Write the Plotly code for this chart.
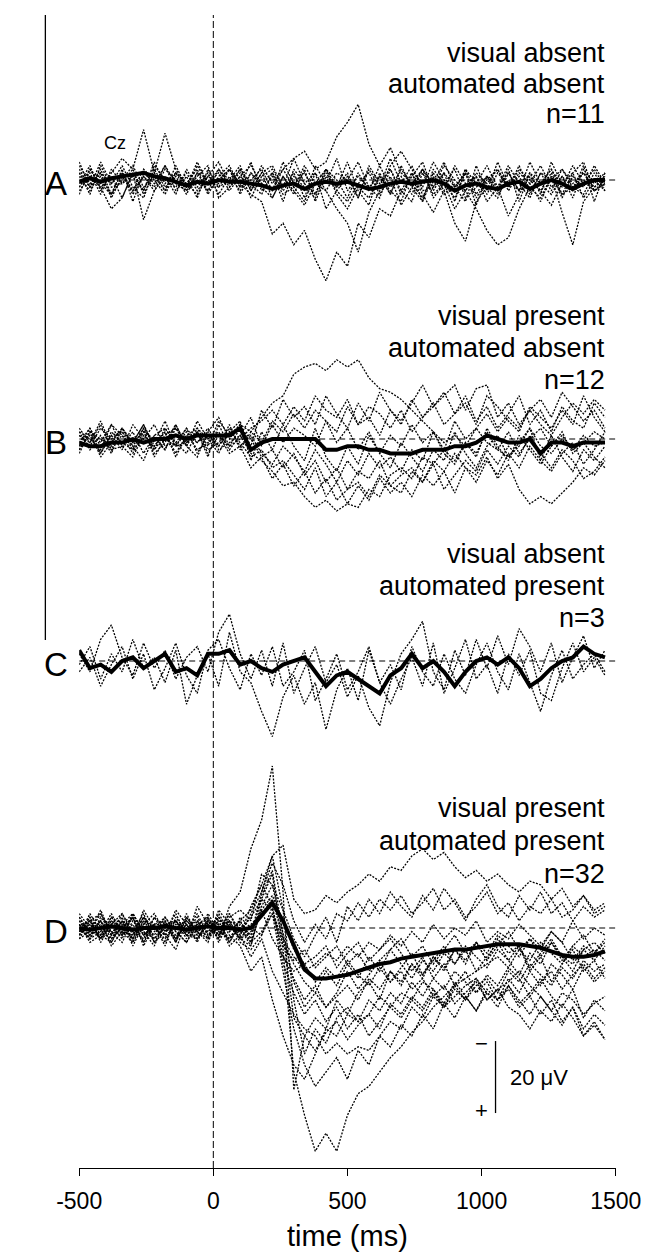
import plotly.graph_objects as go

W, H = 668, 1256
FONT = "Liberation Sans, Arial, Helvetica, sans-serif"

# ---------------- data (µV, positive = downward, as in the figure) ----------------
TIME_MS = [-500, -460, -420, -380, -340, -300, -260, -220, -180, -140,
           -100, -60, -20, 20, 60, 100, 140, 180, 220, 260,
           300, 340, 380, 420, 460, 500, 540, 580, 620, 660,
           700, 740, 780, 820, 860, 900, 940, 980, 1020, 1060,
           1100, 1140, 1180, 1220, 1260, 1300, 1340, 1380, 1420, 1460]

A_MEAN = [0.5, -0.5, 0.5, -0.5, -1, -1.5, -2, -1, -0.5, 0.5,
          1.5, 0.5, 1, 0, 0.5, 0.5, 1, 1.5, 2.5, 1.5,
          1, 2.5, 1, 0.5, 1, 0.5, 1.5, 2.5, 2, 1,
          0.5, 1, 0.5, 0, 1, 3, 1.5, 1, 2, 2.5,
          1, 0.5, 2.5, 1, 0, 1, 2.5, 1, 0, 0]
A_TRIALS = [
    [2, -3, 1, 4, -2, 3, -1, 2, -4, 1, 3, -2, 0, 2, -3, 1, 4, 6, 15, 12,
     18, 14, 22, 28, 20, 24, 12, 16, 8, 10, 3, 6, -2, 4, 1, -3, 5, 2, -1, 4,
     0, 3, -2, 1, 4, -1, 2, 0, 3, 1],
    [-3, 2, -5, 1, -2, 4, -1, 3, -3, 0, 2, -4, 1, -2, 3, -1, 2, -4, 1, -3,
     -6, -8, -3, -5, -12, -16, -21, -10, -4, -9, -2, 1, -3, 2, -4, 0, 3, -2, 1, -3,
     2, -1, 4, -2, 0, -3, 1, -2, 2, 0],
    [1, -4, 3, -2, -6, -3, -14, -2, -13, -3, 2, -5, 1, -3, 2, -1, -4, 1, -2, 3,
     -1, 2, 5, -2, 3, 6, 1, -2, 4, -1, 7, 2, -3, 5, 1, 8, 3, -1, 6, 2,
     10, 4, -1, 3, 7, 1, -2, 5, 0, 3],
    [3, -1, 2, 8, 5, -2, 11, 3, -1, 4, -3, 2, -2, 4, -1, 3, -2, 2, 5, -1,
     3, 7, 1, -3, 4, 8, 2, 5, -1, 3, 6, -2, 4, 9, 3, 12, 17, 6, 2, 5,
     -2, 3, 1, 6, -1, 4, 2, -2, 3, 1],
    [-2, 2, -3, 4, 0, -4, 2, -1, 3, -2, 1, 4, -1, -5, 1, -3, 3, -2, -4, 2,
     -6, 1, 4, -3, 2, -2, 5, -4, 1, -3, 3, -2, 6, -1, 4, 1, 3, 8, 14, 18,
     16, 8, 2, 5, -1, 9, 18, 6, 2, -1],
    [-1, 3, -2, 1, -4, 2, 5, -3, 2, -1, 4, -2, 3, 0, -3, 2, -5, 3, -1, 4,
     2, 6, -2, 3, 8, 12, 20, 9, 3, -4, -8, -3, 2, -5, 0, 3, -3, 1, -4, 2,
     -2, 3, -5, 1, -3, 2, -4, 1, -3, 2],
    [-4, 1, -2, 5, -1, 3, -3, 0, 4, -2, 1, -3, 4, -1, -4, 2, 0, -3, 3, -5,
     1, -2, 4, -3, 0, 5, -2, 3, -4, 2, -1, 4, -3, 1, -5, 2, -2, 5, 0, -3,
     3, -2, 1, -4, 2, -1, 5, -3, 1, -2],
    [2, -2, 4, -3, 1, -1, 3, -4, 0, 2, -2, 3, -1, 1, -3, 4, -2, 1, 3, -3,
     2, -4, 1, 3, -2, 0, -5, 2, -1, 4, -3, 1, 5, -2, 3, -4, 1, -1, 4, -2,
     2, -3, 0, 3, -2, 5, -1, 2, -4, 1],
    [-5, 2, -1, 4, -3, 6, -2, 1, -4, 3, -1, 5, -3, 2, 0, -4, 3, -2, 5, -1,
     4, -3, 6, -1, 2, -5, 3, 7, -2, 4, -4, 2, 6, -3, 1, 5, -2, 7, -1, 3,
     -3, 6, -2, 4, -5, 1, 3, -4, 6, -2],
    [4, -3, 2, -1, 5, -2, 3, -5, 1, -2, 3, -1, -4, 5, 2, -3, 1, 4, -2, 6,
     -3, 1, -2, 8, 3, -1, 5, -3, 2, -6, 1, -4, 3, 2, -2, 6, -3, 4, -1, 2,
     -4, 1, 5, -2, 3, -3, 2, 4, -2, 3],
    [-2, 4, -4, 2, 1, -3, 4, -2, 3, -4, 2, 0, 3, -3, 1, -2, 5, -1, -3, 2,
     -2, 5, -4, 1, -6, 3, -1, 2, 5, -3, 4, -1, -5, 3, -2, 2, 6, -4, 3, -5,
     2, -4, 3, 1, -3, 4, -2, -5, 3, 0],
]

B_MEAN = [1, 2, 2, 1, 1, 0, 1, 0, 0, -1,
          0, -1, -1, -1, -1, -3, 3, 1, 0, 0,
          0, 0, 0, 3, 3, 2, 2, 3, 3, 4,
          4, 4, 3, 3, 3, 2, 2, 1, -1, 0,
          1, 1, 0, 4, 1, 1, 2, 1, 1, 1]
B_TRIALS = [
    [-2, 3, -1, 4, -3, 1, -4, 2, -2, 5, -1, -3, 2, -5, -1, -4, -2, -6, -10, -12,
     -18, -20, -21, -19, -22, -20, -22, -17, -14, -13, -11, -8, -5, -2, 1, -1, 2, -3, 1, 3,
     -2, 4, 0, -3, 2, -1, 3, 1, -2, 0],
    [3, -2, 5, 1, -3, 2, 6, -1, 3, -4, 2, 5, -2, 3, 1, -1, 4, 6, 9, 13,
     12, 16, 19, 17, 20, 18, 19, 14, 16, 10, 8, 11, 5, 7, 3, 6, 1, 4, -2, 3,
     5, 1, -3, 2, 4, 0, 3, -1, 2, 1],
    [-3, 1, -5, 2, -1, 4, -2, 0, 3, -3, 1, -2, 4, -1, 2, -3, 0, 5, 3, 8,
     4, 10, 6, 12, 8, 14, 9, 11, 6, 13, 10, 8, 12, 6, 9, 4, 8, 10, 5, 11,
     7, 14, 18, 16, 18, 15, 12, 8, 10, 6],
    [1, -3, 2, -1, 3, -4, 0, 2, -2, 4, -1, 1, -3, 2, -4, 3, -2, 1, -5, -2,
     -7, -3, -8, -5, -2, -9, -4, -6, -1, -8, -5, -10, -15, -9, -12, -15, -8, -14, -15, -6,
     -10, -4, -8, -11, -6, -13, -9, -5, -8, -3],
    [2, -1, 4, -2, 1, 3, -3, 5, 0, 2, -2, 3, 1, -1, 4, 2, 8, 5, 11, 7,
     13, 9, 15, 11, 17, 14, 12, 16, 10, 13, 15, 9, 12, 7, 14, 10, 6, 9, 3, 7,
     2, 5, -1, 4, 8, 3, 6, 11, 9, 5],
    [-1, 2, -3, 0, -2, 1, -4, 3, -1, -3, 2, -5, 0, -2, 3, -1, -6, 2, -4, 1,
     -3, -1, 2, -5, 1, -3, 3, -2, 4, -1, 2, -4, 1, -2, 3, -5, 0, -3, -7, -2,
     -6, -3, -8, -4, -1, -6, -10, -7, -11, -8],
    [3, -2, 1, -4, 2, 5, -1, 3, -3, 1, 4, -2, 3, 1, -3, 2, -1, 4, 7, 2,
     5, 9, 3, 7, 12, 6, 10, 4, 8, 5, 9, 3, 6, -2, 4, 7, 1, 5, -3, 2,
     6, -1, 3, 7, 2, -2, 4, 1, 5, 8],
    [-2, 0, 3, -4, -1, 2, -3, 1, -5, 2, -3, 1, -2, -6, 0, -4, 2, -8, -3, -11,
     -6, -9, -4, -12, -7, -3, -10, -5, -13, -8, -4, -11, -6, -9, -13, -7, -10, -4, -12, -9,
     -5, -2, -9, -6, -3, -8, -4, -12, -6, -2],
    [2, -3, 4, -1, -2, 3, 0, -4, 2, 1, -3, 4, -1, 2, -2, -5, 6, -2, 3, -4,
     2, 6, -3, 5, 9, 2, 7, -1, 4, 8, 1, 5, 9, 3, 6, -2, 4, 8, 2, -1,
     5, 2, -3, 6, 9, 4, 1, 7, 3, -2],
    [-1, 1, -4, 3, 2, -2, 4, -1, -3, 2, 1, -2, 5, -4, 2, 0, -3, -5, -8, -4,
     -9, -5, -12, -8, -6, -11, -4, -9, -7, -3, -8, -2, -6, -10, -4, -7, -12, -5, -9, -3,
     -7, -12, -4, -8, -2, -9, -5, -3, -10, -6],
    [4, -2, 0, 3, -3, 1, -2, 4, 1, -4, 2, -3, 0, 4, -2, 1, 5, 3, 8, 6,
     10, 14, 8, 16, 12, 18, 13, 17, 11, 15, 12, 16, 10, 13, 9, 15, 8, 12, 6, 10,
     4, 8, 2, 6, -1, 5, 9, 3, 6, 2],
]

C_MEAN = [-3, 2, 1, 3, 0, -1, 2, 0, -2, 3,
          2, 4, -2, -2, -3, 1, 0, 2, 3, 1,
          0, -1, 3, 7, 4, 3, 5, 7, 9, 4,
          2, -2, 2, 0, 3, 7, 3, 0, -1, 1,
          -1, 2, 7, 5, 2, 0, -1, -4, -2, -1]
C_TRIALS = [
    [1, -4, 5, -2, 3, -6, 2, -1, 6, -3, 12, 4, -2, 7, -8, 3, 6, 14, 21, 10,
     4, 12, 6, 19, 8, 2, 11, -3, 6, 1, 8, -4, 3, 7, -2, 5, 9, 1, -5, 3,
     8, -2, 6, 14, 4, -3, 5, 1, -2, 3],
    [-2, 3, -6, -10, -1, 4, -5, 2, -3, 5, -1, -4, 3, -8, -13, -2, 5, -3, 7, -5,
     9, 2, -4, 6, 1, 10, 4, 13, 18, 6, -2, -6, -11, 3, 8, -3, 4, -6, 2, -7,
     1, -9, -4, 3, -5, 6, -1, -7, 2, -3],
    [3, -1, 7, 1, -4, 5, -2, 8, 2, -5, 4, 9, -3, -6, 2, 8, -2, 4, -4, 7,
     3, -3, 11, 5, -2, 8, 3, -4, 6, 12, 5, -1, 7, -5, 9, 2, -6, 5, 1, 9,
     -2, 4, -3, 9, 11, 2, -5, 3, -1, 4],
]

D_MEAN = [0, 0.5, 0, -0.5, 0, 0.5, 0, 0, -0.5, 0,
          0.5, 0, -0.5, 0, 0, 0.5, 0, -3.5, -7, -2,
          5, 11.5, 14, 14, 13.5, 13, 12, 11, 10, 9.5,
          8.5, 8, 7.5, 7, 6.5, 6, 6, 5.5, 5, 4.5,
          4.5, 4.5, 5, 5.5, 6.5, 7.5, 8, 8, 7.5, 6.5]
D_TRIALS = [
    [2, -3, 4, -1, 3, -4, 1, 5, -2, 3, -1, 4, -3, 2, -1, 3, 5, -8, -15, 6,
     40, 52, 62, 57, 62, 52, 46, 44, 40, 36, 33, 29, 26, 22, 19, 16, 14, 12, 10, 8,
     11, 6, 9, 4, 7, 10, 5, 8, 6, 9],
    [-3, 1, -4, 2, -2, 3, -5, 0, -1, 4, -3, 1, -2, 3, -6, -10, -22, -30, -45, -10,
     45, 30, 25, 28, 20, 24, 18, 15, 20, 12, 16, 10, 14, 8, 12, 6, 10, 4, 9, 3,
     7, 5, 12, 8, 15, 10, 6, 12, 9, 14],
    [1, -2, 3, -1, -4, 2, -3, 0, 2, -5, -1, 3, -2, 1, -4, 2, -6, -12, -20, -23,
     -8, -4, -5, -9, -7, -10, -12, -15, -13, -17, -16, -20, -22, -19, -21, -17, -14, -16, -13, -15,
     -12, -10, -13, -12, -8, -11, -6, -9, -5, -7],
    [-1, 3, -2, 5, 1, -3, 4, -1, 2, 6, -2, 1, 4, -3, 2, 5, 12, 8, 20, 30,
     38, 42, 35, 28, 30, 24, 26, 20, 23, 18, 21, 15, 19, 14, 17, 12, 15, 18, 13, 16,
     11, 14, 19, 15, 12, 17, 13, 10, 14, 11],
    [2, -4, 1, 3, -2, 5, -1, 2, -3, 1, 4, -2, 3, -1, 5, 2, 8, 3, 12, 18,
     24, 28, 30, 35, 32, 35, 33, 34, 30, 26, 28, 22, 25, 19, 22, 17, 20, 16, 14, 18,
     12, 15, 10, 13, 16, 11, 14, 9, 12, 10],
    [-3, 2, -1, 4, -2, 1, -4, 3, 0, -2, 2, -1, 3, -4, 1, -2, 4, -5, 3, 8,
     12, 10, 15, 11, 14, 9, 13, 16, 11, 15, 12, 17, 14, 19, 16, 21, 18, 15, 20, 17,
     22, 24, 28, 23, 26, 21, 25, 30, 27, 31],
    [0, 3, -3, 1, 4, -2, 2, -1, 5, -3, 1, 3, -1, 2, -4, 1, -3, -8, -5, 4,
     10, 15, 18, 22, 19, 16, 20, 14, 17, 12, 15, 10, 13, 8, 11, 6, 9, 4, 7, 2,
     5, 8, 3, 6, 1, 4, 9, 5, 7, 3],
    [-2, 1, -5, 2, -3, 4, -1, -4, 1, -2, 3, -6, -1, 2, -3, -5, -2, -15, -12, -5,
     3, 8, 2, -3, 4, -6, -2, -8, -4, -10, -6, -3, -9, -5, -11, -7, -2, -8, -12, -6,
     -3, -9, -5, -10, -4, -7, -2, -6, -3, -5],
    [1, -1, 2, -2, 0, 3, -3, 1, -1, 2, 0, -2, 1, -1, 3, 0, 5, -6, -12, 2,
     15, 22, 18, 12, 16, 10, 14, 8, 12, 6, 10, 14, 9, 12, 7, 10, 5, 8, 11, 6,
     9, 13, 7, 10, 4, 8, 12, 6, 9, 5],
    [3, -2, -4, 1, 2, -3, 5, -1, -2, 3, -4, 2, 1, -2, 4, -1, 2, -10, -20, -5,
     20, 35, 28, 32, 25, 22, 26, 24, 19, 22, 18, 20, 15, 17, 22, 19, 16, 14, 20, 17,
     15, 12, 16, 19, 23, 18, 20, 24, 21, 19],
    [-1, 4, 2, -3, -1, 3, -2, 4, 1, -4, 2, -1, -3, 4, -2, 3, -1, -4, -8, 3,
     8, 12, 10, 7, 9, 5, 8, 4, 6, 2, 5, 1, 4, -1, 3, 0, 2, -2, 4, 1,
     3, -1, 2, 5, 1, 4, -2, 3, 0, 2],
    [2, -1, 3, -3, 1, 4, -2, 0, 3, -1, 1, -3, 2, 0, -2, 4, 6, 2, -6, 10,
     18, 24, 20, 26, 22, 28, 24, 30, 26, 22, 25, 20, 23, 18, 22, 16, 20, 14, 18, 22,
     16, 20, 24, 19, 23, 27, 22, 30, 26, 31],
    [-2, 3, 1, -4, 2, -1, 4, -3, 0, 3, -1, 2, -4, 1, 3, -2, -5, -12, -6, 8,
     14, 20, 16, 22, 18, 12, 17, 13, 9, 15, 11, 7, 13, 9, 5, 10, 6, 12, 8, 4,
     9, 5, 11, 7, 3, 8, 10, 6, 4, 7],
    [1, -3, 2, 4, -1, -4, 2, 0, -3, 1, 4, -1, 0, -3, 1, -2, 3, -9, -16, 2,
     25, 30, 34, 29, 26, 31, 27, 24, 28, 21, 24, 19, 22, 17, 21, 15, 19, 23, 18, 20,
     16, 21, 18, 14, 19, 22, 17, 25, 20, 23],
    [-4, 0, 3, -2, 1, 2, -3, 4, -1, -2, 2, 3, -2, -1, 4, -3, 0, 2, -4, 5,
     9, 6, 11, 8, 5, 10, 7, 12, 9, 6, 3, 8, 5, 10, 6, 2, 7, 4, 9, 5,
     1, 6, 3, 8, 4, 9, 5, 2, 7, 4],
    [3, 1, -2, 2, -4, 1, 3, -3, 2, 0, -2, 1, 3, -5, -1, 2, -4, -10, -18, -12,
     -2, 4, -1, 3, -4, -2, -7, -3, -8, -5, -9, -4, -7, -11, -5, -8, -3, -6, -10, -4,
     -7, -2, -6, -4, -8, -3, -5, -9, -4, -6],
    [0, -2, 3, -1, 2, -4, 1, 3, -2, 4, -3, 1, -1, 3, -2, 0, 4, 1, -4, 12,
     28, 38, 44, 40, 36, 42, 34, 38, 30, 33, 27, 30, 24, 28, 21, 25, 19, 23, 17, 20,
     14, 18, 12, 16, 10, 13, 17, 11, 15, 12],
    [-1, 2, -2, 3, 0, -3, 2, -1, 4, -2, 1, -4, 2, -2, -1, 3, 1, -5, -9, -2,
     6, 10, 8, 5, 11, 7, 4, 9, 6, 3, 7, 12, 8, 14, 10, 16, 12, 18, 15, 20,
     17, 22, 19, 24, 20, 26, 22, 28, 24, 27],
]

PANEL_LETTERS = ["A", "B", "C", "D"]
VISUAL_LABELS = ["visual absent", "visual present", "visual absent", "visual present"]
AUTOMATED_LABELS = ["automated absent", "automated absent", "automated present", "automated present"]
N_LABELS = ["n=11", "n=12", "n=3", "n=32"]
X_TICKS = [-500, 0, 500, 1000, 1500]
SCALE_BAR_UV = 20

# ---------------- layout geometry (pixels) ----------------
PANEL_PX = [(0, 300, 172), (300, 522, 431), (522, 745, 653), (745, 1160, 920)]  # top, bottom, baseline
PX_PER_UV = 3.6
TEXT_PX = [(45, 76, 106), (308, 340, 372), (546, 578, 610), (800, 833, 866)]
X_LEFT_PX, X_RIGHT_PX = 52, 631


def paper_y(px):
    return 1 - px / H


def paper_x(px):
    return px / W


fig = go.Figure()
means = [A_MEAN, B_MEAN, C_MEAN, D_MEAN]
trials = [A_TRIALS, B_TRIALS, C_TRIALS, D_TRIALS]
yrefs = ["y", "y2", "y3", "y4"]

for i in range(4):
    for tr in trials[i]:
        fig.add_trace(go.Scatter(x=TIME_MS, y=tr, mode="lines", xaxis="x", yaxis=yrefs[i],
                                 line=dict(color="black", width=1.3, dash="2px,1.4px"),
                                 hoverinfo="skip", showlegend=False))
    fig.add_trace(go.Scatter(x=TIME_MS, y=means[i], mode="lines", xaxis="x", yaxis=yrefs[i],
                             line=dict(color="black", width=4), showlegend=False))

layout = dict(
    width=W, height=H,
    margin=dict(l=0, r=0, t=0, b=0),
    paper_bgcolor="white", plot_bgcolor="rgba(0,0,0,0)",
    showlegend=False,
    font=dict(family=FONT, color="black"),
    xaxis=dict(domain=[paper_x(X_LEFT_PX), paper_x(X_RIGHT_PX)], range=[-500, 1500], anchor="y4",
               showline=True, linecolor="black", linewidth=1.3, ticks="outside", ticklen=7,
               tickwidth=1.3, tickcolor="black", tickvals=X_TICKS, ticktext=[str(v) for v in X_TICKS],
               tickfont=dict(size=23, family=FONT, color="black"), showgrid=False, zeroline=False,
               ticklabelstandoff=5, fixedrange=True),
)
for i, (top, bot, base) in enumerate(PANEL_PX):
    key = "yaxis" if i == 0 else f"yaxis{i+1}"
    layout[key] = dict(domain=[paper_y(bot), paper_y(top)],
                       range=[(bot - base) / PX_PER_UV, (top - base) / PX_PER_UV],
                       visible=False, anchor="x", fixedrange=True)
fig.update_layout(**layout)

shapes = []
annotations = []
for i in range(4):
    shapes.append(dict(type="line", xref="x", yref=yrefs[i], x0=-500, x1=1500, y0=0, y1=0,
                       line=dict(color="black", width=1.2, dash="6px,4px")))
    annotations.append(dict(x=paper_x(27), xref="paper", y=0, yref=yrefs[i], text=PANEL_LETTERS[i],
                            showarrow=False, xanchor="center", yanchor="middle", yshift=-3,
                            font=dict(size=33, family=FONT, color="black")))
    for txt, ypx in zip([VISUAL_LABELS[i], AUTOMATED_LABELS[i], N_LABELS[i]], TEXT_PX[i]):
        annotations.append(dict(x=paper_x(622), xref="paper", y=paper_y(ypx), yref="paper", text=txt,
                                showarrow=False, xanchor="right", yanchor="middle",
                                font=dict(size=27, family=FONT, color="black")))

# stimulus onset line and left frame line
shapes.append(dict(type="line", xref="x", yref="paper", x0=0, x1=0, y0=paper_y(1160), y1=paper_y(7),
                   line=dict(color="black", width=1, dash="7px,3px")))
shapes.append(dict(type="line", xref="paper", yref="paper", x0=paper_x(15.5), x1=paper_x(15.5),
                   y0=paper_y(632), y1=paper_y(7), line=dict(color="black", width=1.3)))
# scale bar (20 µV) in panel D units
SB_TOP = 31.4
shapes.append(dict(type="line", xref="x", yref="y4", x0=1052, x1=1052, y0=SB_TOP, y1=SB_TOP + SCALE_BAR_UV,
                   line=dict(color="black", width=1.3)))
annotations += [
    dict(x=1000, xref="x", y=SB_TOP + 0.6, yref="y4", text="−", showarrow=False,
         font=dict(size=22, family=FONT, color="black")),
    dict(x=1000, xref="x", y=SB_TOP + SCALE_BAR_UV - 0.8, yref="y4", text="+", showarrow=False,
         font=dict(size=22, family=FONT, color="black")),
    dict(x=1098, xref="x", y=SB_TOP + SCALE_BAR_UV / 2, yref="y4", text=f"{SCALE_BAR_UV} μV",
         showarrow=False, xanchor="left", font=dict(size=22, family=FONT, color="black")),
    dict(x=paper_x(77), xref="paper", y=paper_y(123), yref="paper", text="Cz", showarrow=False,
         font=dict(size=18, family=FONT, color="black")),
    dict(x=500, xref="x", y=paper_y(1228), yref="paper", text="time (ms)", showarrow=False,
         yanchor="middle", font=dict(size=29, family=FONT, color="black")),
]
fig.update_layout(shapes=shapes, annotations=annotations)

fig.write_html("out.html")
